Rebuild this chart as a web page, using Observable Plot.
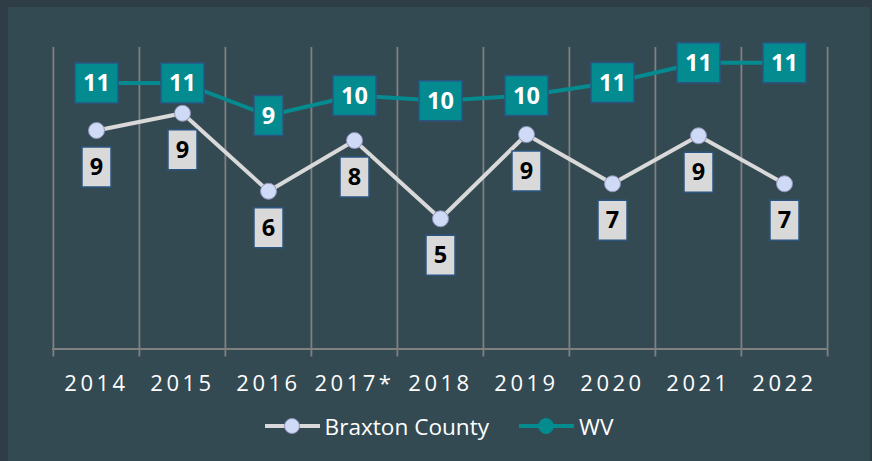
<!DOCTYPE html>
<html><head><meta charset="utf-8">
<script src="https://cdn.jsdelivr.net/npm/d3@7"></script>
<script src="https://cdn.jsdelivr.net/npm/@observablehq/plot@0.6"></script>
<style>
html,body{margin:0;padding:0;background:#2f3e46;}
#frame{position:relative;width:872px;height:461px;background:#2f3e46;overflow:hidden;font-family:"Open Sans",sans-serif;}
#inner{position:absolute;left:8px;top:7px;width:862px;height:454px;background:#344a52;}
#chart{position:absolute;left:0;top:0;}
#legend{position:absolute;left:8px;width:862px;top:410px;height:32px;display:flex;justify-content:center;align-items:center;color:#fff;font-size:22.6px;}
#legend .item{display:flex;align-items:center;}
#legend svg{display:block;}
#chart g[aria-label="x-axis tick label"] text{letter-spacing:3.5px;}
</style></head><body>
<div id="frame"><div id="inner"></div><div id="chart"></div><div id="legend"></div></div>
<script>
// Data
const years = ["2014","2015","2016","2017*","2018","2019","2020","2021","2022"];
const braxton = [8.74, 9.43, 6.31, 8.34, 5.21, 8.58, 6.61, 8.53, 6.61];
const wv = [10.64, 10.64, 9.34, 10.14, 9.93, 10.14, 10.66, 11.45, 11.45];
const seriesNames = ["Braxton County", "WV"];

const rows = years.map((year, i) => ({year, brax: braxton[i], wv: wv[i]}));

const W = 872, H = 400, mL = 52, mR = 44, mT = 48.5, mB = 51.5;
const bw = (W - mL - mR) / years.length;

const box = (w, h) => ({draw(ctx) { ctx.rect(-w / 2, -h / 2, w, h); }});
const wide = box(43, 40), narrow = box(29, 40);

const teal = "#038b8f", light = "#d9d9d9", border = "#2a5583";
const markerFill = "#cfdbf6", markerStroke = "#8f93b8";
const labelOffset = 36.5;
const labelFont = 23.5;

const chart = Plot.plot({
  width: W, height: H,
  marginLeft: mL, marginRight: mR, marginTop: mT, marginBottom: mB,
  style: {background: "transparent", color: "#fff", fontFamily: "'Open Sans', sans-serif", overflow: "visible"},
  x: {type: "band", domain: years, padding: 0},
  y: {domain: [0, 12], axis: null},
  marks: [
    Plot.ruleX(years, {x: d => d, dx: -bw / 2, stroke: "#808080", strokeWidth: 1.8, insetTop: -1.5, insetBottom: -8}),
    Plot.ruleX(years.slice(-1), {x: d => d, dx: bw / 2, stroke: "#808080", strokeWidth: 1.8, insetTop: -1.5, insetBottom: -8}),
    Plot.ruleY([0], {stroke: "#808080", strokeWidth: 1.8}),
    Plot.axisX({tickSize: 0, tickPadding: 26, fontSize: 22, fill: "#fff", label: null}),
    // WV
    Plot.line(rows, {x: "year", y: "wv", stroke: teal, strokeWidth: 4}),
    Plot.dot(rows, {x: "year", y: "wv", symbol: wide, fill: teal, stroke: border, strokeWidth: 1.5, filter: d => Math.round(d.wv) >= 10}),
    Plot.dot(rows, {x: "year", y: "wv", symbol: narrow, fill: teal, stroke: border, strokeWidth: 1.5, filter: d => Math.round(d.wv) < 10}),
    Plot.text(rows, {x: "year", y: "wv", text: d => String(Math.round(d.wv)), fill: "#fff", fontWeight: "bold", fontSize: labelFont, dy: 0.5}),
    // Braxton County
    Plot.line(rows, {x: "year", y: "brax", stroke: light, strokeWidth: 4}),
    Plot.dot(rows, {x: "year", y: "brax", r: 8, fill: markerFill, stroke: markerStroke, strokeWidth: 1}),
    Plot.dot(rows, {x: "year", y: "brax", dy: labelOffset, symbol: narrow, fill: light, stroke: border, strokeWidth: 1.5}),
    Plot.text(rows, {x: "year", y: "brax", dy: labelOffset + 0.5, text: d => String(Math.round(d.brax)), fill: "#000", fontWeight: "bold", fontSize: labelFont})
  ]
});
document.getElementById("chart").appendChild(chart);

// Legend
const legend = d3.select("#legend");
const specs = [
  {name: seriesNames[0], line: light, fill: markerFill, stroke: markerStroke},
  {name: seriesNames[1], line: teal, fill: teal, stroke: teal}
];
specs.forEach((s, i) => {
  const it = legend.append("div").attr("class", "item").style("margin-left", i ? "30px" : "0");
  const svg = it.append("svg").attr("width", 56).attr("height", 18);
  svg.append("line").attr("x1", 0).attr("x2", 55).attr("y1", 9).attr("y2", 9).attr("stroke", s.line).attr("stroke-width", 4);
  svg.append("circle").attr("cx", 27).attr("cy", 9).attr("r", 7.5).attr("fill", s.fill).attr("stroke", s.stroke).attr("stroke-width", 1);
  it.append("span").style("margin-left", "4px").text(s.name);
});
</script>
</body></html>
